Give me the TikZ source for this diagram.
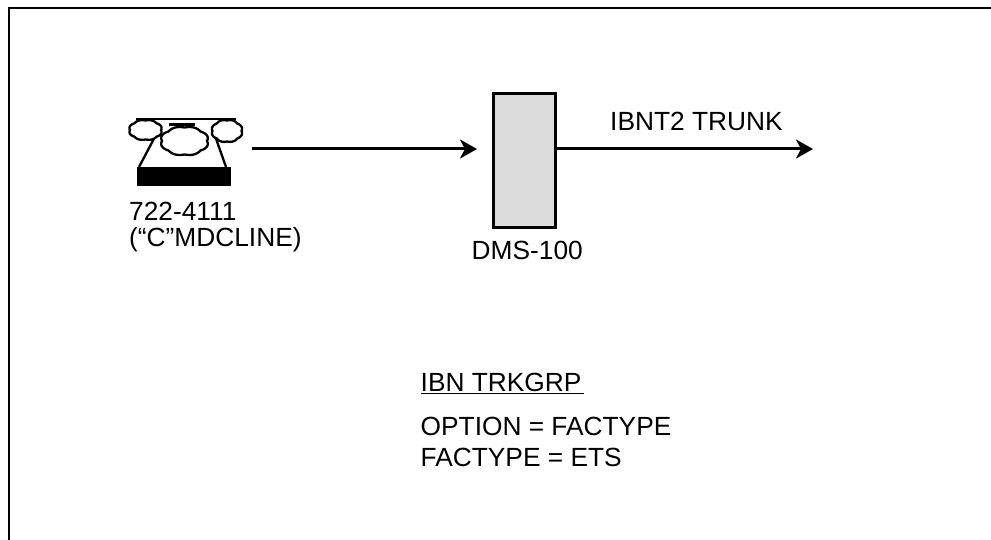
\documentclass[tikz,border=0pt]{standalone}
\usepackage{fontspec}
\setmainfont{Liberation Sans}
\usetikzlibrary{arrows.meta}
\definecolor{boxgray}{HTML}{DCDCDC}
\tikzset{
  lbl/.style={anchor=base west, inner sep=0pt, font=\fontsize{26.3}{26.3}\selectfont},
  conn/.style={line width=3pt, -{Stealth[length=17pt,width=19pt,inset=5pt]}},
  phoneline/.style={line width=2.3pt},
  frameline/.style={line width=1.2pt},
}
\newcommand{\bumpy}[4]{% cx, cy, rx, ry
  \draw[phoneline, fill=white] plot[domain=0:355, samples=72]
    ({#1+#3*cos(\x)*(1+0.08*abs(sin(4*\x)))}, {#2+#4*sin(\x)*(1+0.08*abs(sin(4*\x)))}) -- cycle;}
\begin{document}
\begin{tikzpicture}[x=1pt, y=-1pt]
\useasboundingbox (0,0) rectangle (991,540);
% frame
\draw[frameline] (9,540) -- (9,8) -- (991,8);
% telephone
\fill (137,167) rectangle (231,186);
\draw[phoneline] (157,133) -- (139,167);
\draw[phoneline] (214,133) -- (226,167);
\draw[phoneline] (136,119) -- (236,119);
\bumpy{145.5}{130}{15.5}{9.5}
\bumpy{227}{131}{14.5}{10.5}
\bumpy{184.5}{141}{22.5}{13.5}
\draw[line width=2.4pt] (169,124.5) -- (195,124.5);
\coordinate (phoneR) at (252,149);
% DMS-100 box
\node[draw, line width=3pt, fill=boxgray, minimum width=62pt, minimum height=134pt, inner sep=0pt] (dms) at (524.2,160.4) {};
\coordinate (trunkEnd) at (813,149);
% connectors
\draw[conn] (phoneR) -- (phoneR -| 477,0);
\draw[conn] (phoneR -| dms.east) -- (trunkEnd);
% labels
\node[lbl] (num) at (129,221) {722-4111};
\node[lbl] (cls) at (129,247) {(“C”MDCLINE)};
\node[lbl] (dmsl) at (471.5,260) {DMS-100};
\node[lbl] (trunk) at (610,131) {IBNT2 TRUNK};
\node[lbl] (grp) at (420.5,391) {IBN TRKGRP};
\draw[line width=1.3pt] (grp.base west) ++(0,2.5) -- ++(163.5,0);
\node[lbl] (opt) at (420.5,435) {OPTION = FACTYPE};
\node[lbl] (fac) at (420.5,466) {FACTYPE = ETS};
\end{tikzpicture}
\end{document}
